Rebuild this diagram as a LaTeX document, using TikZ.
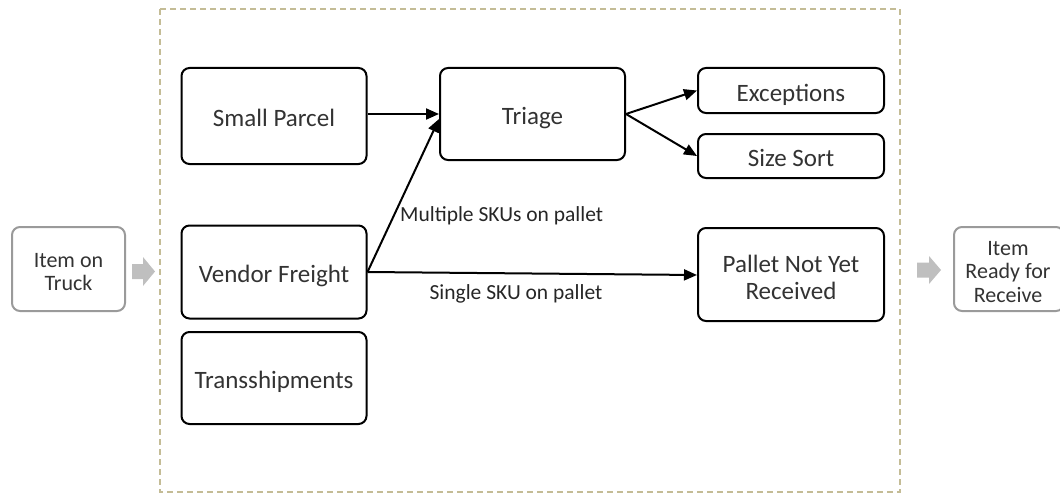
\documentclass[tikz,border=0pt]{standalone}
\usepackage{fontspec}
\setmainfont{Carlito}
\usetikzlibrary{arrows.meta}
\definecolor{frameline}{HTML}{C4BC96}
\definecolor{greyline}{HTML}{9A9A9A}
\definecolor{greyfill}{HTML}{BFBFBF}
\definecolor{boxtext}{HTML}{333333}
\begin{document}
\begin{tikzpicture}[x=1pt,y=-1pt,
  stage/.style={draw=black, line width=2pt, rounded corners=8pt, fill=white,
    text=boxtext, align=center, font=\fontsize{25}{27}\selectfont,
    text height=21pt, text depth=0pt},
  stagebox/.style={draw=black, line width=2pt, rounded corners=8pt, fill=white},
  endbox/.style={draw=greyline, line width=2pt, rounded corners=8pt, fill=white},
  boxlabel/.style={text=boxtext, align=center, font=\fontsize{25}{27}\selectfont, inner sep=0pt},
  endlabel/.style={text=boxtext, align=center, font=\fontsize{22}{23.5}\selectfont, inner sep=0pt},
  flow/.style={line width=2pt, draw=black, -{Triangle[length=13pt,width=11pt]}},
  edgelabel/.style={text=black!85, font=\fontsize{21.5}{24}\selectfont, inner sep=0pt},
  handoff/.style={fill=greyfill, draw=none}
]
\useasboundingbox (0,0) rectangle (1060,495);

% receiving area
\draw[frameline, line width=2pt, dash pattern=on 6pt off 4pt] (160,9) rectangle (900,492);

% entry and exit states
\node[endbox, minimum width=113pt, minimum height=84pt] (truck) at (68.5,269) {};
\node[endlabel] (trucktxt) at (68.5,272) {Item on\\Truck};
\node[endbox, minimum width=110pt, minimum height=84pt] (ready) at (1009,269) {};
\node[endlabel] (readytxt) at (1008,272) {Item\\Ready for\\Receive};

% hand-off arrows into and out of the area
\coordinate (intip) at (155,271.5);
\fill[handoff] (132,264) -- (143,264) -- (143,257) -- (intip) -- (143,286) -- (143,279) -- (132,279) -- cycle;
\coordinate (outtip) at (941,270);
\fill[handoff] (917,262.5) -- (929,262.5) -- (929,256) -- (outtip) -- (929,284) -- (929,277.5) -- (917,277.5) -- cycle;

% process stages
\node[stage, minimum width=185pt, minimum height=96pt] (parcel) at (274,116) {Small Parcel};
\node[stage, minimum width=185pt, minimum height=93pt] (vendor) at (274,272) {Vendor Freight};
\node[stage, minimum width=185pt, minimum height=92pt] (trans) at (274,378) {Transshipments};

\node[stage, minimum width=185pt, minimum height=92pt] (triage) at (532.5,114) {Triage};
\node[stage, minimum width=186pt, minimum height=45pt] (exc) at (791,90.5) {Exceptions};
\node[stage, minimum width=186pt, minimum height=44pt] (size) at (791,156) {Size Sort};
\node[stagebox, minimum width=186pt, minimum height=93pt] (pallet) at (791,274.5) {};
\node[boxlabel] (pallettxt) at (791,277) {Pallet Not Yet\\Received};

% flows
\draw[flow] (parcel.east |- 0,114) -- (triage.west |- 0,114);
\draw[flow] (vendor.east) -- (triage.west |- 0,119);
\draw[flow] (vendor.east) -- (pallet.west |- 0,275);
\draw[flow] (triage.east) -- (exc.west);
\draw[flow] (triage.east) -- (size.west);

\node[edgelabel, anchor=west] (multi) at (400,216) {Multiple SKUs on pallet};
\node[edgelabel] (single) at (516,294) {Single SKU on pallet};
\end{tikzpicture}
\end{document}
